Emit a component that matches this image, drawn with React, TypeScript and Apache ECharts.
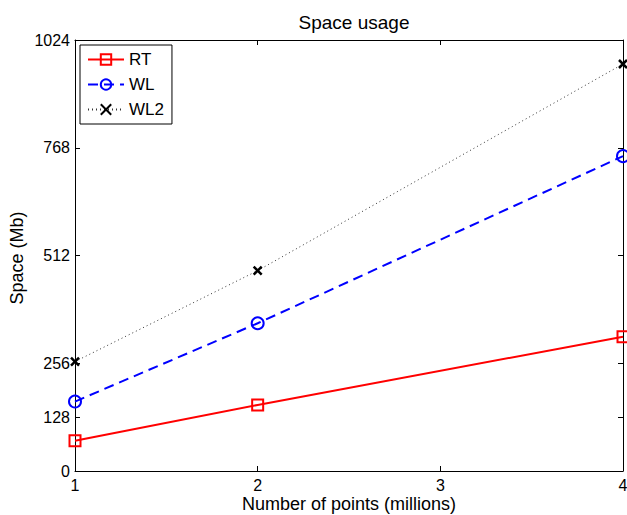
import React, { useEffect, useRef } from "react";
import * as echarts from "echarts";

const xValues = [1, 2, 4];
const rtValues = [72, 157, 319];
const wlValues = [165, 351, 748];
const wl2Values = [260, 476, 967];
const yTicks = [0, 128, 256, 512, 768, 1024];
const xTicks = [1, 2, 3, 4];

const FONT = "Liberation Sans, Arial, Helvetica, sans-serif";

export default function App() {
  const ref = useRef<HTMLDivElement>(null);
  useEffect(() => {
    if (!ref.current) return;
    const chart = echarts.init(ref.current, null, { renderer: "svg" });
    const pair = (ys: number[]) => xValues.map((x, i) => [x, ys[i]]);
    const axisLine = { show: true, onZero: false, lineStyle: { color: "#000", width: 1 } };
    const yAxisBase = {
      type: "value" as const,
      min: 0,
      max: 1024,
      splitLine: { show: false },
      axisLine,
    };
    const xAxisBase = {
      type: "value" as const,
      min: xTicks[0],
      max: xTicks[xTicks.length - 1],
      interval: 1,
      splitLine: { show: false },
      axisLine,
    };
    chart.setOption({
      animation: false,
      backgroundColor: "#fff",
      title: {
        text: "Space usage",
        left: 349,
        textAlign: "center",
        top: 8,
        textStyle: { fontFamily: FONT, fontSize: 19, fontWeight: "normal", color: "#000" },
      },
      graphic: [
        {
          type: "text",
          x: 349,
          y: 504,
          style: {
            text: "Number of points (millions)",
            fontFamily: FONT,
            fontSize: 18,
            fill: "#000",
            textAlign: "center",
            textVerticalAlign: "middle",
          },
        },
        {
          type: "text",
          x: 17,
          y: 258,
          rotation: Math.PI / 2,
          style: {
            text: "Space (Mb)",
            fontFamily: FONT,
            fontSize: 18,
            fill: "#000",
            textAlign: "center",
            textVerticalAlign: "middle",
          },
        },
      ],
      legend: {
        orient: "vertical",
        left: 80,
        top: 45,
        padding: [6, 8, 6, 7],
        itemWidth: 36,
        itemHeight: 13,
        itemGap: 8,
        borderColor: "#000",
        borderWidth: 1,
        backgroundColor: "#fff",
        textStyle: { fontFamily: FONT, fontSize: 17, color: "#000" },
        data: ["RT", "WL", "WL2"],
      },
      grid: { left: 75, right: 4, top: 40, bottom: 44, containLabel: false, outerBoundsMode: "none" },
      xAxis: [
        {
          ...xAxisBase,
          position: "bottom",
          axisTick: { show: true, inside: true, length: 5, lineStyle: { color: "#000" } },
          axisLabel: { fontFamily: FONT, fontSize: 16, color: "#000", margin: 6, formatter: (v: number) => String(v) },
        },
        {
          ...xAxisBase,
          position: "top",
          axisTick: { show: true, inside: true, length: 5, lineStyle: { color: "#000" } },
          axisLabel: { show: false },
        },
      ],
      yAxis: [
        {
          ...yAxisBase,
          position: "left",
          axisTick: { show: true, inside: true, length: 5, customValues: yTicks, lineStyle: { color: "#000" } },
          axisLabel: {
            fontFamily: FONT,
            fontSize: 16,
            color: "#000",
            margin: 5,
            customValues: yTicks,
            formatter: (v: number) => String(v),
          },
        },
        {
          ...yAxisBase,
          position: "right",
          axisTick: { show: true, inside: true, length: 5, customValues: yTicks, lineStyle: { color: "#000" } },
          axisLabel: { show: false },
        },
      ],
      series: [
        {
          name: "RT",
          type: "line",
          data: pair(rtValues),
          symbol: "rect",
          symbolSize: 11,
          lineStyle: { color: "#ff0000", width: 2, type: "solid" },
          itemStyle: { color: "rgba(0,0,0,0)", borderColor: "#ff0000", borderWidth: 2 },
          z: 3,
        },
        {
          name: "WL",
          type: "line",
          data: pair(wlValues),
          symbol: "circle",
          symbolSize: 12,
          lineStyle: { color: "#0000ff", width: 2, type: [10, 6] },
          itemStyle: { color: "rgba(0,0,0,0)", borderColor: "#0000ff", borderWidth: 2 },
          z: 3,
        },
        {
          name: "WL2",
          type: "line",
          data: pair(wl2Values),
          symbol: "path://M0,0L10,10M10,0L0,10",
          symbolSize: 8,
          lineStyle: { color: "#333", width: 1, type: [1, 3] },
          itemStyle: { color: "rgba(0,0,0,0)", borderColor: "#000", borderWidth: 2.5 },
          z: 3,
        },
      ],
    });
    return () => chart.dispose();
  }, []);
  return (
    <div
      ref={ref}
      style={{ position: "absolute", left: 0, top: 0, width: 627, height: 515 }}
    />
  );
}
